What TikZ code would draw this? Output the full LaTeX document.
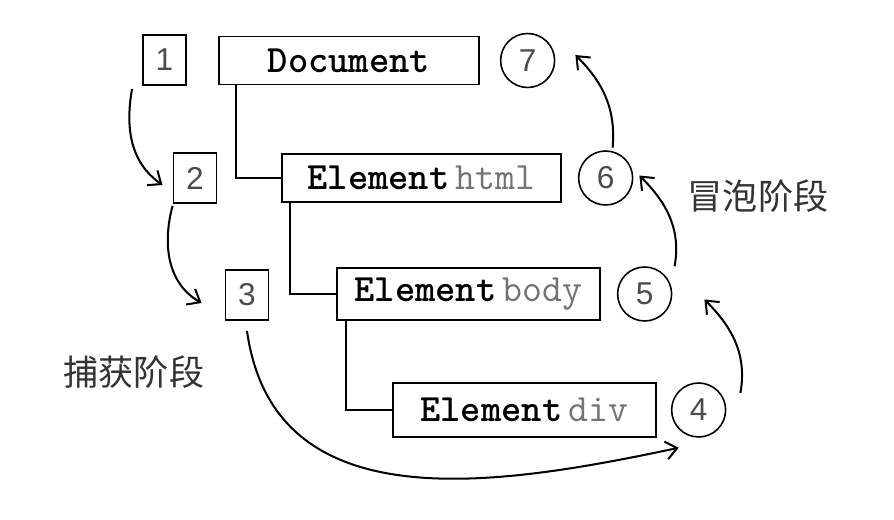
\documentclass[tikz,border=0pt]{standalone}
\usepackage{fontspec}
\newfontfamily\cjk{Noto Sans CJK SC}
\newfontfamily\numfont{Liberation Sans}
\usetikzlibrary{positioning, calc, arrows.meta}

\begin{document}
\begin{tikzpicture}[x=0.02cm, y=-0.02cm,
  treebox/.style={rectangle, draw=black, line width=1pt, inner sep=0pt, minimum height=0.96cm, font=\fontsize{22}{24}\selectfont\ttfamily},
  numbox/.style={rectangle, draw=black, line width=1.1pt, inner sep=0pt, minimum width=0.86cm, minimum height=1cm, font=\fontsize{18}{20}\selectfont\numfont, text=black!70},
  numcirc/.style={circle, draw=black, line width=0.9pt, inner sep=0pt, minimum size=1.08cm, font=\fontsize{18}{20}\selectfont\numfont, text=black!70},
  phase/.style={font=\fontsize{20}{22}\selectfont\cjk, text=black!80},
  flow/.style={-{Straight Barb[length=2.2mm, width=3.6mm]}, line width=1.15pt}]
  \useasboundingbox (0,0) rectangle (894,520);
\node[numbox] (one) at (164.5,60) {1};
\node[numbox] (two) at (195,178) {2};
\node[numbox] (three) at (247,295) {3};
\node[treebox, minimum width=5.2cm] (doc) at (349,60.5) {\textbf{Document}};
\node[treebox, minimum width=5.58cm] (html) at (421.5,178) {\textbf{Element}\,\textcolor{black!55}{html}};
\node[treebox, minimum width=5.26cm, minimum height=1.04cm] (body) at (468.5,294) {\textbf{Element}\,\textcolor{black!55}{body}};
\node[treebox, minimum width=5.26cm, minimum height=1.08cm] (div) at (524.5,410) {\textbf{Element}\,\textcolor{black!55}{div}};
\node[numcirc, right=0.4cm of doc] (seven) {7};
\node[numcirc, right=0.32cm of html] (six) {6};
\node[numcirc, right=0.32cm of body] (five) {5};
\node[numcirc, right=0.28cm of div] (four) {4};
\node[phase] (bubbling) at (758,196) {冒泡阶段};
\node[phase] (capturing) at (134,372) {捕获阶段};
% tree
\draw[line width=1.1pt] ([xshift=3.6mm]doc.south west) |- (html.west);
\draw[line width=1.1pt] ([xshift=1.8mm]html.south west) |- (body.west);
\draw[line width=1.1pt] ([xshift=2mm]body.south west) |- (div.west);
% capturing then bubbling
\path[flow]
	([xshift=-2mm, yshift=-0.6mm]one.south west) edge [out=-100, in=145] ([xshift=-2mm, yshift=-1.4mm]two.west)
	([yshift=-0.4mm]two.south west) edge [out=-105, in=150] ([xshift=-4.6mm, yshift=-1.6mm]three.west)
	([yshift=-2mm]three.south) edge [out=-82, in=192, looseness=1.1] ([xshift=-4mm, yshift=-2mm]four.south)
	([xshift=2.8mm, yshift=3.4mm]four.east) edge [out=80, in=-45] ([xshift=6.4mm, yshift=-1.1mm]five.east)
	([xshift=6mm]five.north) edge [out=80, in=-45] ([xshift=1.2mm, yshift=0.5mm]six.east)
	([xshift=1.4mm, yshift=0.5mm]six.north) edge [out=85, in=-45] ([xshift=4mm, yshift=1.1mm]seven.east)
;
\end{tikzpicture}
\end{document}
